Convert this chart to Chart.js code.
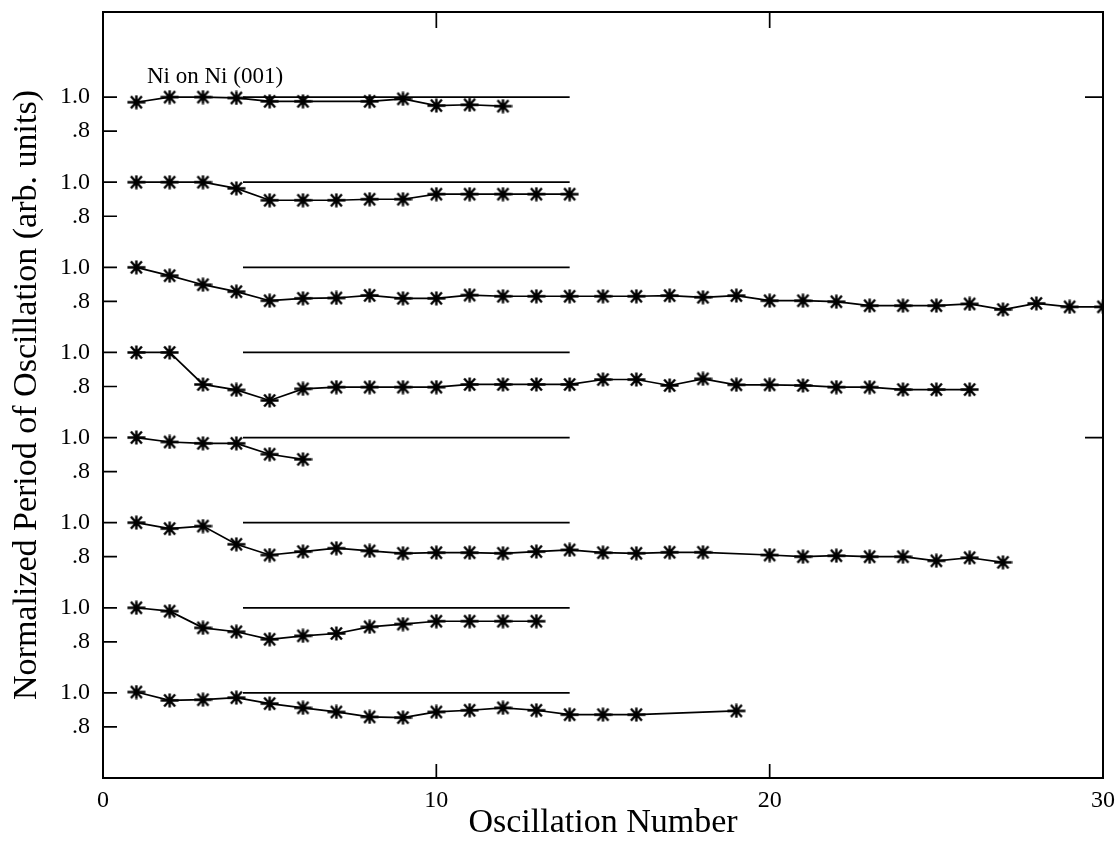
<!DOCTYPE html>
<html>
<head>
<meta charset="utf-8">
<title>Ni on Ni (001)</title>
<script src="https://cdn.jsdelivr.net/npm/chart.js@4.4.0/dist/chart.umd.min.js"></script>
<style>
  html, body { margin: 0; padding: 0; background: #fff; }
</style>
</head>
<body>
<canvas id="mycanvas" width="1116" height="843"></canvas>
<script>
// oscillation number / normalized period for each run, top run first
var osc1 = [1, 2, 3, 4, 5, 6, 8, 9, 10, 11, 12];
var per1 = [0.97, 1.00, 1.00, 0.995, 0.975, 0.975, 0.975, 0.99, 0.95, 0.955, 0.947];

var osc2 = [1, 2, 3, 4, 5, 6, 7, 8, 9, 10, 11, 12, 13, 14];
var per2 = [1.00, 1.00, 1.00, 0.964, 0.894, 0.894, 0.894, 0.90, 0.90, 0.93, 0.93, 0.93, 0.93, 0.93];

var osc3 = [1, 2, 3, 4, 5, 6, 7, 8, 9, 10, 11, 12, 13, 14, 15, 16, 17, 18, 19, 20, 21, 22, 23, 24, 25, 26, 27, 28, 29, 30];
var per3 = [1.00, 0.951, 0.898, 0.857, 0.804, 0.818, 0.82, 0.835, 0.818, 0.818, 0.837, 0.83, 0.83, 0.83, 0.83,
            0.83, 0.834, 0.824, 0.834, 0.804, 0.804, 0.798, 0.775, 0.775, 0.775, 0.785, 0.752, 0.788, 0.768, 0.768];

var osc4 = [1, 2, 3, 4, 5, 6, 7, 8, 9, 10, 11, 12, 13, 14, 15, 16, 17, 18, 19, 20, 21, 22, 23, 24, 25, 26];
var per4 = [1.00, 1.00, 0.812, 0.78, 0.718, 0.786, 0.796, 0.796, 0.796, 0.796, 0.812, 0.812, 0.812,
            0.812, 0.841, 0.841, 0.806, 0.845, 0.81, 0.81, 0.806, 0.796, 0.796, 0.782, 0.782, 0.782];

var osc5 = [1, 2, 3, 4, 5, 6];
var per5 = [1.00, 0.974, 0.966, 0.966, 0.902, 0.872];

var osc6 = [1, 2, 3, 4, 5, 6, 7, 8, 9, 10, 11, 12, 13, 14, 15, 16, 17, 18, 20, 21, 22, 23, 24, 25, 26, 27];
var per6 = [1.00, 0.965, 0.98, 0.873, 0.81, 0.83, 0.85, 0.834, 0.82, 0.824, 0.824, 0.82, 0.83,
            0.84, 0.824, 0.82, 0.826, 0.826, 0.81, 0.80, 0.806, 0.80, 0.80, 0.776, 0.794, 0.767];

var osc7 = [1, 2, 3, 4, 5, 6, 7, 8, 9, 10, 11, 12, 13];
var per7 = [1.00, 0.98, 0.882, 0.859, 0.815, 0.835, 0.849, 0.888, 0.904, 0.921, 0.921, 0.921, 0.921];

var osc8 = [1, 2, 3, 4, 5, 6, 7, 8, 9, 10, 11, 12, 13, 14, 15, 16, 19];
var per8 = [1.005, 0.956, 0.96, 0.972, 0.937, 0.912, 0.888, 0.859, 0.855, 0.888, 0.898, 0.912, 0.898, 0.872, 0.872, 0.872, 0.894];

var oscRuns = [osc1, osc2, osc3, osc4, osc5, osc6, osc7, osc8];
var perRuns = [per1, per2, per3, per4, per5, per6, per7, per8];

// each run is shifted up so the curves stack
var runOffsets = [3.0, 2.5, 2.0, 1.5, 1.0, 0.5, 0.0, -0.5];

// reference level drawn for every run
var refLevel = 1.0;
var refFrom = 4.2;
var refTo = 14;

var tickLevels = [0.8, 1.0];
var tickLabels = ['.8', '1.0'];
var xTicks = [0, 10, 20, 30];
var rightTicks = [2, 4];
var panelLabel = 'Ni on Ni (001)';

Chart.defaults.font.family = '"Liberation Serif", "Times New Roman", serif';
Chart.defaults.color = '#000';

// asterisk marker
function asterisk() {
  var c = document.createElement('canvas');
  c.width = 19;
  c.height = 15;
  var g = c.getContext('2d');
  g.strokeStyle = '#000';
  g.lineWidth = 2.4;
  g.lineCap = 'butt';
  g.beginPath();
  g.moveTo(0.5, 7.5); g.lineTo(18.5, 7.5);
  g.moveTo(4, 1.5); g.lineTo(15, 13.5);
  g.moveTo(15, 1.5); g.lineTo(4, 13.5);
  g.moveTo(9.5, 0.5); g.lineTo(9.5, 14.5);
  g.stroke();
  return c;
}
var star = asterisk();

var datasets = [];
for (var r = 0; r < oscRuns.length; r++) {
  var pts = [];
  for (var i = 0; i < oscRuns[r].length; i++) {
    pts.push({ x: oscRuns[r][i], y: perRuns[r][i] + runOffsets[r] });
  }
  datasets.push({
    data: pts,
    borderColor: '#000',
    borderWidth: 1.7,
    pointStyle: star,
    pointRadius: 7,
    clip: 0,
    tension: 0
  });
  datasets.push({
    data: [{ x: refFrom, y: refLevel + runOffsets[r] }, { x: refTo, y: refLevel + runOffsets[r] }],
    borderColor: '#000',
    borderWidth: 1.7,
    pointRadius: 0
  });
}

// box around the plot, inward ticks and the panel label
var frameTicks = {
  id: 'frameTicks',
  afterDraw: function(chart) {
    var ctx = chart.ctx;
    var a = chart.chartArea;
    var xs = chart.scales.x;
    var ys = chart.scales.y;
    ctx.save();
    ctx.strokeStyle = '#000';
    ctx.lineWidth = 2;
    ctx.strokeRect(a.left, a.top, a.right - a.left, a.bottom - a.top);
    ctx.lineWidth = 1.7;
    ctx.beginPath();
    ys.ticks.forEach(function(t) {
      var py = ys.getPixelForValue(t.value);
      ctx.moveTo(a.left, py);
      ctx.lineTo(a.left + 14, py);
    });
    rightTicks.forEach(function(v) {
      var py = ys.getPixelForValue(v);
      ctx.moveTo(a.right, py);
      ctx.lineTo(a.right - 18, py);
    });
    xs.ticks.forEach(function(t) {
      var px = xs.getPixelForValue(t.value);
      ctx.moveTo(px, a.top);
      ctx.lineTo(px, a.top + 16);
      ctx.moveTo(px, a.bottom);
      ctx.lineTo(px, a.bottom - 14);
    });
    ctx.stroke();
    ctx.fillStyle = '#000';
    ctx.font = '23px "Liberation Serif", serif';
    ctx.textAlign = 'left';
    ctx.textBaseline = 'middle';
    ctx.fillText(panelLabel, xs.getPixelForValue(1.32), ys.getPixelForValue(4.12));
    ctx.restore();
  }
};

var ctx = document.getElementById('mycanvas');

var chart = new Chart(ctx, {
  type: 'line',
  data: { datasets: datasets },
  plugins: [frameTicks],
  options: {
    responsive: false,
    animation: false,
    layout: { padding: { top: 12, right: 13, left: 0, bottom: 0 } },
    plugins: {
      legend: { display: false },
      tooltip: { enabled: false }
    },
    scales: {
      x: {
        type: 'linear',
        min: 0,
        max: 30,
        grid: { display: false },
        border: { display: false },
        afterBuildTicks: function(scale) {
          scale.ticks = xTicks.map(function(v) { return { value: v }; });
        },
        ticks: {
          font: { size: 24 },
          padding: 0,
          maxRotation: 0
        },
        title: {
          display: true,
          text: 'Oscillation Number',
          font: { size: 34 },
          padding: { top: 0, bottom: 0 }
        },
        afterFit: function(scale) {
          scale.height = 65;
          scale.paddingLeft = 0;
          scale.paddingRight = 0;
        }
      },
      y: {
        type: 'linear',
        min: 0,
        max: 4.5,
        grid: { display: false },
        border: { display: false },
        afterBuildTicks: function(scale) {
          var t = [];
          for (var r = runOffsets.length - 1; r >= 0; r--) {
            for (var k = 0; k < tickLevels.length; k++) {
              t.push({ value: tickLevels[k] + runOffsets[r] });
            }
          }
          scale.ticks = t;
        },
        ticks: {
          font: { size: 24 },
          padding: 5,
          callback: function(value, index) {
            return tickLabels[index % tickLabels.length];
          }
        },
        title: {
          display: true,
          text: 'Normalized Period of Oscillation (arb. units)',
          font: { size: 34 },
          padding: { top: 7, bottom: 0 }
        },
        afterFit: function(scale) {
          scale.width = 103;
          scale.paddingTop = 0;
          scale.paddingBottom = 0;
        }
      }
    }
  }
});
</script>
</body>
</html>
